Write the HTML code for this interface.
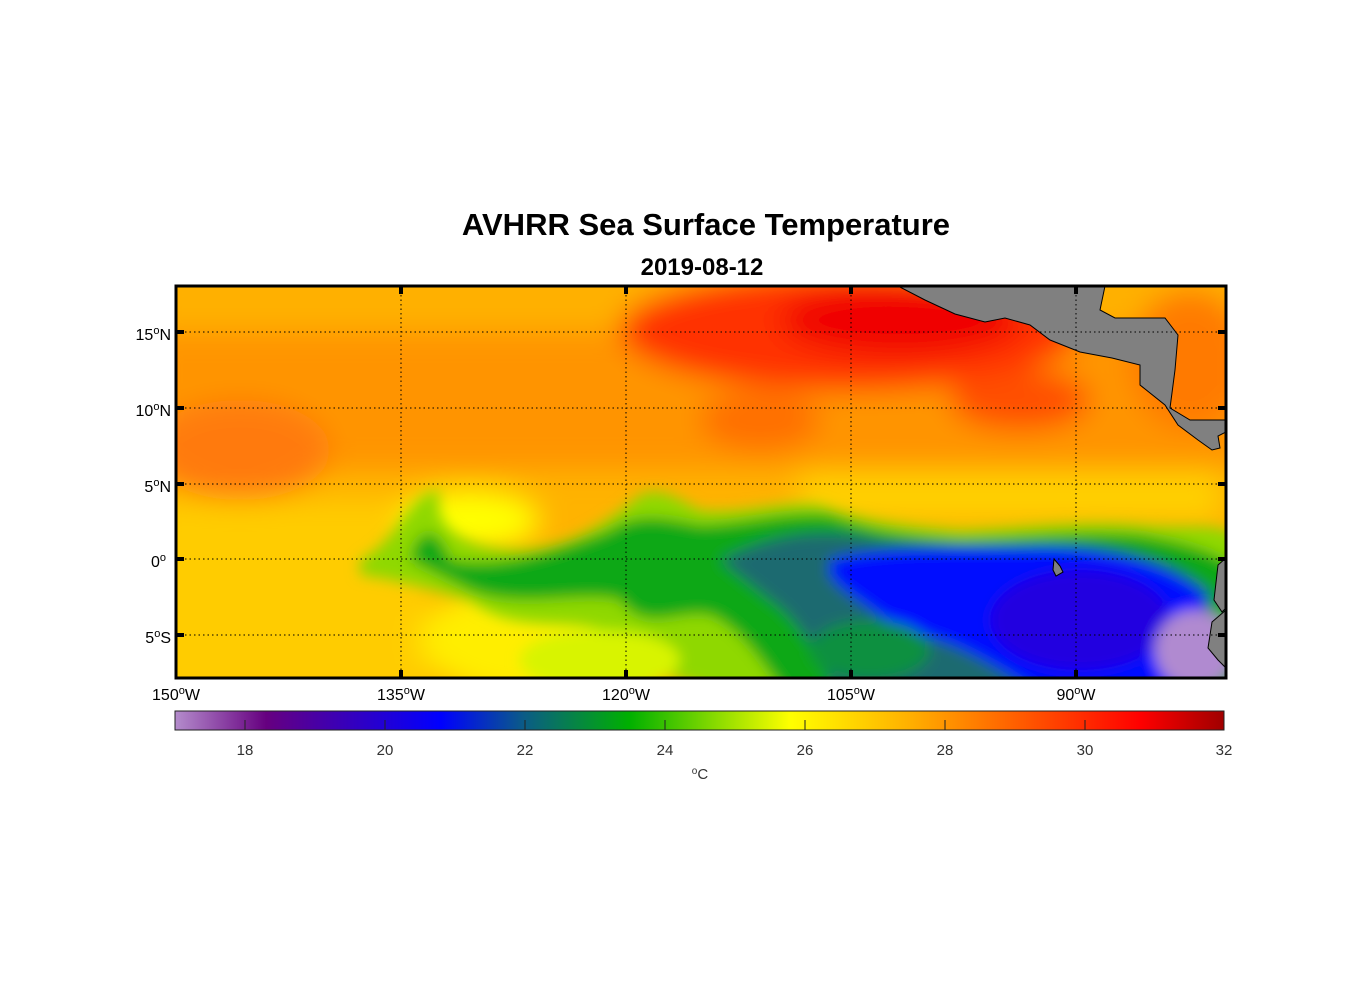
<!DOCTYPE html>
<html><head><meta charset="utf-8"><style>
body{margin:0;background:#fff;}
svg{display:block;font-family:"Liberation Sans",Arial,sans-serif;}
</style></head><body>
<svg width="1356" height="1000" viewBox="0 0 1356 1000" xmlns="http://www.w3.org/2000/svg">
<defs>
<clipPath id="c"><rect x="176" y="286" width="1050" height="392"/></clipPath>
<filter id="b" x="-20%" y="-20%" width="140%" height="140%"><feGaussianBlur stdDeviation="14"/></filter>
<filter id="b2" x="-20%" y="-20%" width="140%" height="140%"><feGaussianBlur stdDeviation="7"/></filter>
<linearGradient id="cb" x1="0" x2="1" y1="0" y2="0">
<stop offset="0" stop-color="#b48ccc"/>
<stop offset="0.087" stop-color="#660080"/>
<stop offset="0.253" stop-color="#0000ff"/>
<stop offset="0.333" stop-color="#0b5c86"/>
<stop offset="0.433" stop-color="#00b000"/>
<stop offset="0.587" stop-color="#ffff00"/>
<stop offset="0.70" stop-color="#ffb000"/>
<stop offset="0.80" stop-color="#ff6000"/>
<stop offset="0.92" stop-color="#ff0000"/>
<stop offset="1" stop-color="#a00000"/>
</linearGradient>
</defs>
<text x="706" y="235" font-size="31" font-weight="bold" text-anchor="middle">AVHRR Sea Surface Temperature</text>
<text x="702" y="275" font-size="24" font-weight="bold" text-anchor="middle">2019-08-12</text>
<g clip-path="url(#c)">
<rect x="150" y="260" width="1100" height="440" fill="#ffb300"/>
<g filter="url(#b)">
<rect x="150" y="260" width="1100" height="60" fill="#ffb000"/>
<rect x="150" y="330" width="1100" height="140" fill="#ff9400"/>
<ellipse cx="240" cy="450" rx="90" ry="50" fill="#ff7a10"/>
<ellipse cx="850" cy="330" rx="230" ry="60" fill="#ff3000"/>
<ellipse cx="900" cy="320" rx="120" ry="35" fill="#f00000"/>
<ellipse cx="1020" cy="400" rx="70" ry="30" fill="#ff5000"/>
<ellipse cx="1190" cy="360" rx="60" ry="70" fill="#ff7a00"/>
<ellipse cx="760" cy="420" rx="60" ry="30" fill="#ff7000"/>
<rect x="150" y="500" width="280" height="200" fill="#ffcc00"/>
<ellipse cx="470" cy="520" rx="70" ry="30" fill="#ffff00"/>
<ellipse cx="540" cy="640" rx="120" ry="60" fill="#ffee00"/>
<rect x="800" y="470" width="420" height="50" fill="#ffd000"/>
</g>
<g filter="url(#b2)">
<path d="M360 560 C400 540 410 490 440 490 C430 530 470 550 520 550 C570 548 610 520 640 495 C660 485 680 500 700 510 C740 515 780 500 820 505 C860 520 900 525 960 530 C1020 528 1080 520 1140 525 C1190 530 1226 520 1240 540 L1240 700 L720 700 C700 670 640 690 620 640 C580 610 520 640 470 600 C430 590 400 580 360 575 Z" fill="#8fd800"/>
<path d="M410 560 C420 520 440 530 450 560 C500 570 560 550 610 530 C640 510 670 520 700 525 C740 525 790 510 830 515 C870 530 900 535 960 540 C1020 538 1080 530 1140 535 C1200 545 1240 560 1240 580 L1240 700 L790 700 C760 660 750 640 720 620 C690 600 650 640 620 600 C580 590 520 610 470 590 Z" fill="#10a818"/>
<path d="M720 560 C770 535 820 525 880 540 C960 545 1020 545 1080 545 C1140 548 1180 565 1210 590 L1210 700 L840 700 C820 660 800 620 770 600 Z" fill="#1a6a70"/>
<path d="M830 560 C880 545 960 550 1040 548 C1110 548 1170 565 1205 595 L1205 700 L1050 700 C1000 670 960 640 900 630 C860 600 840 590 830 575 Z" fill="#0010ff"/>
<ellipse cx="1080" cy="620" rx="90" ry="50" fill="#2000e0"/>
<ellipse cx="1195" cy="650" rx="40" ry="40" fill="#b08ad0"/>
<ellipse cx="870" cy="650" rx="60" ry="30" fill="#109040"/>
<ellipse cx="600" cy="660" rx="80" ry="30" fill="#d8f400"/>
</g>
<path d="M898,286 L1105,286 1100,310 1115,318 1165,318 1178,335 1175,370 1170,408 1190,420 1226,420 1226,432 1218,436 1220,448 1212,450 1198,440 1178,425 1165,405 1140,385 1140,365 1112,358 1080,352 1050,340 1030,325 1005,318 985,322 955,314 925,300 Z" fill="#808080" stroke="#000" stroke-width="1"/>
<path d="M1226,558 L1218,565 1214,600 1222,612 1226,608 Z" fill="#808080" stroke="#000"/>
<path d="M1226,610 L1212,622 1208,648 1218,660 1226,668 Z" fill="#808080" stroke="#000"/>
<path d="M1054,559 L1060,566 1063,572 1056,576 1053,570 Z" fill="#808080" stroke="#000"/>
</g>
<g stroke="#000" stroke-width="1" stroke-dasharray="1.5,3">
<line x1="176" y1="332" x2="1226" y2="332"/><line x1="176" y1="408" x2="1226" y2="408"/>
<line x1="176" y1="484" x2="1226" y2="484"/><line x1="176" y1="559" x2="1226" y2="559"/>
<line x1="176" y1="635" x2="1226" y2="635"/>
<line x1="401" y1="286" x2="401" y2="678"/><line x1="626" y1="286" x2="626" y2="678"/>
<line x1="851" y1="286" x2="851" y2="678"/><line x1="1076" y1="286" x2="1076" y2="678"/>
</g>
<g stroke="#000" stroke-width="4">
<path d="M176 332h8M176 408h8M176 484h8M176 559h8M176 635h8M1226 332h-8M1226 408h-8M1226 484h-8M1226 559h-8M1226 635h-8"/>
<path d="M401 286v8M626 286v8M851 286v8M1076 286v8M401 678v-8M626 678v-8M851 678v-8M1076 678v-8"/>
</g>
<rect x="176" y="286" width="1050" height="392" fill="none" stroke="#000" stroke-width="3"/>
<g font-size="16" text-anchor="end">
<text x="171" y="340">15<tspan dy="-6" font-size="11">o</tspan><tspan dy="6">N</tspan></text>
<text x="171" y="416">10<tspan dy="-6" font-size="11">o</tspan><tspan dy="6">N</tspan></text>
<text x="171" y="492">5<tspan dy="-6" font-size="11">o</tspan><tspan dy="6">N</tspan></text>
<text x="166" y="567">0<tspan dy="-6" font-size="11">o</tspan></text>
<text x="171" y="643">5<tspan dy="-6" font-size="11">o</tspan><tspan dy="6">S</tspan></text>
</g>
<g font-size="16" text-anchor="middle">
<text x="176" y="700">150<tspan dy="-6" font-size="11">o</tspan><tspan dy="6">W</tspan></text>
<text x="401" y="700">135<tspan dy="-6" font-size="11">o</tspan><tspan dy="6">W</tspan></text>
<text x="626" y="700">120<tspan dy="-6" font-size="11">o</tspan><tspan dy="6">W</tspan></text>
<text x="851" y="700">105<tspan dy="-6" font-size="11">o</tspan><tspan dy="6">W</tspan></text>
<text x="1076" y="700">90<tspan dy="-6" font-size="11">o</tspan><tspan dy="6">W</tspan></text>
</g>
<rect x="175" y="711" width="1049" height="19" fill="url(#cb)" stroke="#222" stroke-width="1"/>
<g stroke="#222"><path d="M245 720v10M385 720v10M525 720v10M665 720v10M805 720v10M945 720v10M1085 720v10"/></g>
<g font-size="15" fill="#333" text-anchor="middle">
<text x="245" y="755">18</text><text x="385" y="755">20</text><text x="525" y="755">22</text>
<text x="665" y="755">24</text><text x="805" y="755">26</text><text x="945" y="755">28</text>
<text x="1085" y="755">30</text><text x="1224" y="755">32</text>
<text x="700" y="779"><tspan font-size="10" dy="-5">o</tspan><tspan dy="5">C</tspan></text>
</g>
</svg>
</body></html>
